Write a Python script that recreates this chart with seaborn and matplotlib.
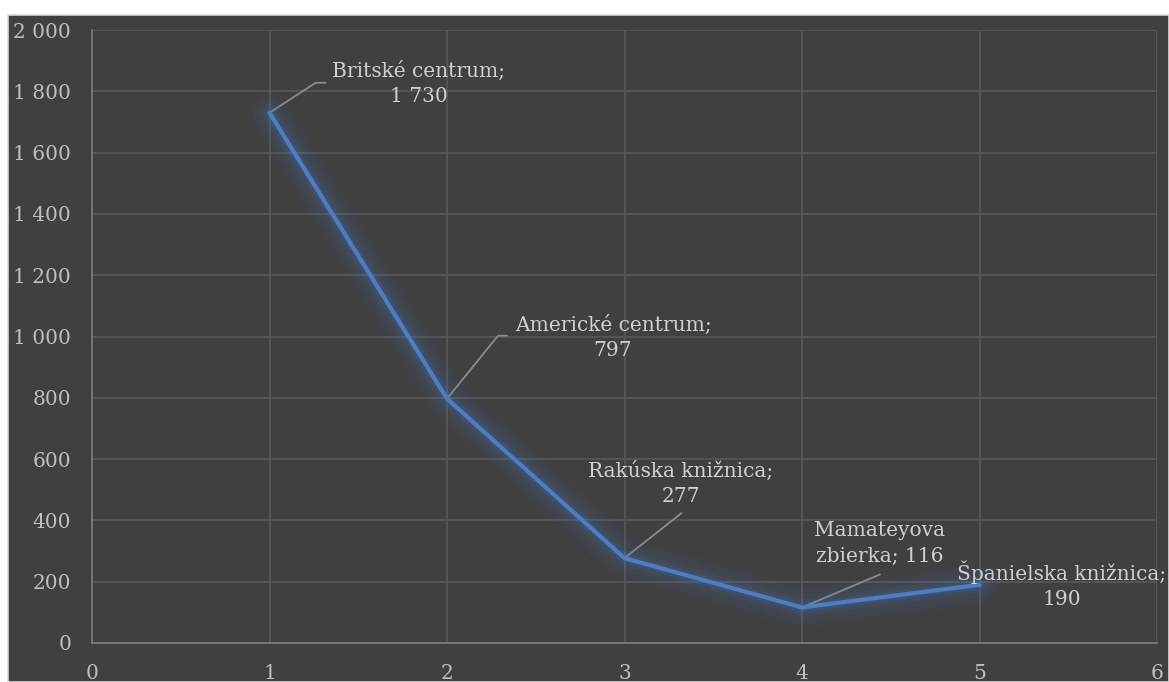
import numpy as np
import pandas as pd
import matplotlib.pyplot as plt
import matplotlib.patheffects as pe
from matplotlib.patches import Rectangle
from matplotlib.ticker import FuncFormatter
import seaborn as sns

# data
x_vals = [1, 2, 3, 4, 5]
counts = [1730, 797, 277, 116, 190]
names = ["Britské centrum", "Americké centrum", "Rakúska knižnica",
         "Mamateyova\nzbierka", "Španielska knižnica"]

df = pd.DataFrame({"x": x_vals, "count": counts, "name": names})

sns.set_style("dark")
plt.rcParams["font.family"] = ["DejaVu Serif"]

bg = "#404040"
txt = "#d0d0d0"
tick_c = "#bfbfbf"
line_c = "#4a7ec8"

fig = plt.figure(figsize=(11.69, 6.82), dpi=100, facecolor="white")
fig.patches.append(Rectangle((8 / 1169, 0), 1 - 8 / 1169, 1 - 15 / 682,
                             transform=fig.transFigure, facecolor=bg,
                             edgecolor="#d9d9d9", linewidth=1.2, zorder=-1))
ax = fig.add_axes([92 / 1169, 39 / 682, 1065 / 1169, 613 / 682])
ax.set_facecolor(bg)

# soft glow around the line
glow = [pe.Stroke(linewidth=w, foreground=line_c, alpha=a)
        for w, a in [(30, 0.03), (24, 0.04), (18, 0.06), (12, 0.08), (7, 0.12)]] + [pe.Normal()]
sns.lineplot(data=df, x="x", y="count", ax=ax, color=line_c, linewidth=3,
             path_effects=glow, zorder=5)

ax.set_xlim(0, 6)
ax.set_ylim(0, 2000)
ax.set_xticks(range(0, 7))
ax.set_yticks(range(0, 2001, 200))
ax.yaxis.set_major_formatter(FuncFormatter(lambda v, p: f"{int(v):,}".replace(",", " ")))
ax.grid(True, color="#595959", linewidth=1.2)
ax.tick_params(colors=tick_c, labelsize=14.5, length=0)
ax.tick_params(axis="y", pad=15)
ax.tick_params(axis="x", pad=15)
ax.set_xlabel("")
ax.set_ylabel("")
for s in ["top", "right"]:
    ax.spines[s].set_visible(False)
for s in ["left", "bottom"]:
    ax.spines[s].set_color("#7f7f7f")
    ax.spines[s].set_linewidth(1.2)

# label offsets (pixels) and leader lines
label_off = [(149, 29), (166, 61), (56, 75), (78, 64), (82, 0)]
leader_off = [(56, 30), (60, 63), (57, 45), (78, 33), None]
leader_ang = [33, 51, None, None, None]

for i, row in df.iterrows():
    val = f"{row['count']:,}".replace(",", " ")
    if "\n" in row["name"]:
        label = f"{row['name']}; {val}"
    else:
        label = f"{row['name']};\n{val}"
    ax.annotate(label, xy=(row["x"], row["count"]), xytext=label_off[i],
                textcoords="offset pixels", ha="center", va="center",
                color=txt, fontsize=14.5, linespacing=1.4, annotation_clip=False,
                zorder=6)
    if leader_off[i] is not None:
        if leader_ang[i] is not None:
            cs = f"angle,angleA=0,angleB={leader_ang[i]},rad=0"
        else:
            cs = "arc3"
        ax.annotate("", xy=(row["x"], row["count"]), xytext=leader_off[i],
                    textcoords="offset pixels",
                    arrowprops=dict(arrowstyle="-", color="#8c8c8c", lw=1.3,
                                    shrinkA=0, shrinkB=0, connectionstyle=cs),
                    zorder=4)

fig.savefig("out.png", dpi=100, facecolor=fig.get_facecolor())
